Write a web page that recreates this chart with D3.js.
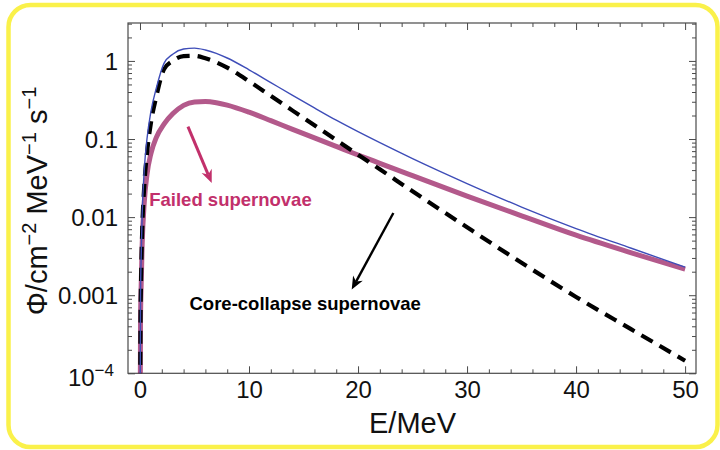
<!DOCTYPE html>
<html>
<head>
<meta charset="utf-8">
<script src="https://cdn.jsdelivr.net/npm/d3@7"></script>
<style>
  html, body { margin: 0; padding: 0; background: #ffffff; }
  svg { display: block; }
  text { font-family: "Liberation Sans", Arial, Helvetica, sans-serif; }
</style>
</head>
<body>
<svg id="chart" width="720" height="450"></svg>
<script>
// Neutrino energy grid (MeV)
const energy = [0.01, 0.05, 0.1, 0.2, 0.4, 0.64, 1, 1.5, 2.2, 3, 4, 5, 6, 7, 8, 10, 12, 14, 16, 18, 20, 22, 25, 30, 35, 40, 45, 50];

// Flux Φ (cm^-2 MeV^-1 s^-1) on the grid above
const coreCollapse = [2e-5, 0.0005, 0.0016, 0.0065, 0.026, 0.065, 0.16, 0.35, 0.78, 1.0, 1.15, 1.16, 1.08, 0.96, 0.82, 0.55, 0.356, 0.231, 0.15, 0.097, 0.063, 0.041, 0.0214, 0.0074, 0.0026, 0.00095, 0.00037, 0.000145];
const failed = [1e-5, 0.0005, 0.0012, 0.0045, 0.016, 0.035, 0.065, 0.105, 0.155, 0.21, 0.27, 0.298, 0.302, 0.292, 0.272, 0.221, 0.172, 0.133, 0.1035, 0.0804, 0.0624, 0.0489, 0.034, 0.0186, 0.0104, 0.00586, 0.00351, 0.00215];
const total = [3e-5, 0.001, 0.0028, 0.011, 0.042, 0.1, 0.225, 0.45, 0.93, 1.22, 1.42, 1.46, 1.38, 1.25, 1.09, 0.77, 0.528, 0.362, 0.25, 0.174, 0.124, 0.0897, 0.0561, 0.0269, 0.01346, 0.00714, 0.00402, 0.00229];

// Axis ticks
const xMajorTicks = [0, 10, 20, 30, 40, 50];
const yMajorTicks = [1e-4, 0.001, 0.01, 0.1, 1];
const yTickLabels = ["10", "0.001", "0.01", "0.1", "1"];

// Annotations in data units: [E, Φ]
const failedLabelAt = [0.85, 0.014];
const failedArrow = [[4.4, 0.144], [6.58, 0.0274]];
const coreLabelAt = [4.54, 0.00065];
const coreArrow = [[23.24, 0.0113], [19.42, 0.00118]];

const svg = d3.select("#chart");
const plotLeft = 128, plotRight = 696, plotTop = 23, plotBottom = 373.3;

// Rounded yellow frame around the figure
svg.append("rect")
  .attr("x", 8.5).attr("y", 5)
  .attr("width", 709).attr("height", 442)
  .attr("rx", 22).attr("ry", 22)
  .attr("fill", "#ffffff")
  .attr("stroke", "#faf14a")
  .attr("stroke-width", 4.5);

const x = d3.scaleLinear().domain([-1.1, 51]).range([plotLeft, plotRight]);
const y = d3.scaleLog().domain([1e-4, 3.06]).range([plotBottom, plotTop]);

// Clip curves to the plotting area
svg.append("clipPath").attr("id", "plotClip")
  .append("rect").attr("x", plotLeft).attr("y", plotTop)
  .attr("width", plotRight - plotLeft).attr("height", plotBottom - plotTop);

const frameColor = "#4a4a4a";

// Minor tick values
const xMinor = d3.range(0, 51, 2).filter(v => v % 10 !== 0);
const yMinor = [];
for (let e = -4; e <= 0; e++) {
  for (let m = 2; m <= 9; m++) {
    const v = m * Math.pow(10, e);
    if (v <= 3.06) yMinor.push(v);
  }
}

function styleAxis(g) {
  g.select(".domain").remove();
  g.selectAll(".tick line").attr("stroke", frameColor).attr("stroke-width", 1);
}

// Bottom axis (ticks point inward)
svg.append("g").attr("transform", `translate(0,${plotBottom})`)
  .call(d3.axisBottom(x).tickValues(xMajorTicks).tickSize(-7).tickPadding(10).tickFormat(d3.format("d")))
  .call(styleAxis)
  .call(g => g.selectAll(".tick text")
    .attr("font-size", 24).attr("fill", "#111")
    .attr("y", null).attr("dy", null)
    .attr("transform", "translate(0,25)"));
svg.append("g").attr("transform", `translate(0,${plotBottom})`)
  .call(d3.axisBottom(x).tickValues(xMinor).tickSize(-4).tickFormat(""))
  .call(styleAxis);

// Top axis
svg.append("g").attr("transform", `translate(0,${plotTop})`)
  .call(d3.axisTop(x).tickValues(xMajorTicks).tickSize(-7).tickFormat(""))
  .call(styleAxis);
svg.append("g").attr("transform", `translate(0,${plotTop})`)
  .call(d3.axisTop(x).tickValues(xMinor).tickSize(-4).tickFormat(""))
  .call(styleAxis);

// Left axis
svg.append("g").attr("transform", `translate(${plotLeft},0)`)
  .call(d3.axisLeft(y).tickValues(yMajorTicks).tickSize(-7).tickPadding(10)
    .tickFormat((d, i) => yTickLabels[i]))
  .call(styleAxis)
  .call(g => g.selectAll(".tick text")
    .attr("font-size", 24).attr("fill", "#111")
    .attr("dy", "0.36em"))
  .call(g => g.selectAll(".tick text").filter(d => d === 1e-4)
    .attr("dy", null).attr("transform", "translate(-4,12)")
    .append("tspan").attr("dy", -10).attr("font-size", 17).text("\u22124"));
svg.append("g").attr("transform", `translate(${plotLeft},0)`)
  .call(d3.axisLeft(y).tickValues(yMinor).tickSize(-4).tickFormat(""))
  .call(styleAxis);

// Right axis
svg.append("g").attr("transform", `translate(${plotRight},0)`)
  .call(d3.axisRight(y).tickValues(yMajorTicks).tickSize(-7).tickFormat(""))
  .call(styleAxis);
svg.append("g").attr("transform", `translate(${plotRight},0)`)
  .call(d3.axisRight(y).tickValues(yMinor).tickSize(-4).tickFormat(""))
  .call(styleAxis);

// Plot frame
svg.append("rect")
  .attr("x", plotLeft).attr("y", plotTop)
  .attr("width", plotRight - plotLeft).attr("height", plotBottom - plotTop)
  .attr("fill", "none").attr("stroke", frameColor).attr("stroke-width", 1.2);

// Curves
const lineOf = vals => d3.line()
  .x((d, i) => x(energy[i]))
  .y(d => y(d))
  .curve(d3.curveMonotoneX)(vals);

const curves = svg.append("g").attr("clip-path", "url(#plotClip)");
curves.append("path").attr("d", lineOf(failed))
  .attr("fill", "none").attr("stroke", "#b3598b").attr("stroke-width", 5)
  .attr("stroke-linejoin", "round");
curves.append("path").attr("d", lineOf(coreCollapse))
  .attr("fill", "none").attr("stroke", "#000").attr("stroke-width", 4.2)
  .attr("stroke-dasharray", "13,8");
curves.append("path").attr("d", lineOf(total))
  .attr("fill", "none").attr("stroke", "#3e4db8").attr("stroke-width", 1.4);

// Arrow with a notched, filled head
function arrow(pts, color, width, headLen, headHalf) {
  const [x0, y0] = [x(pts[0][0]), y(pts[0][1])];
  const [x1, y1] = [x(pts[1][0]), y(pts[1][1])];
  const len = Math.hypot(x1 - x0, y1 - y0);
  const ux = (x1 - x0) / len, uy = (y1 - y0) / len;
  const nx = -uy, ny = ux;
  const bx = x1 - ux * headLen, by = y1 - uy * headLen;
  const notchX = x1 - ux * headLen * 0.7, notchY = y1 - uy * headLen * 0.7;
  svg.append("line")
    .attr("x1", x0).attr("y1", y0).attr("x2", notchX).attr("y2", notchY)
    .attr("stroke", color).attr("stroke-width", width);
  svg.append("path")
    .attr("d", `M${x1},${y1}L${bx + nx * headHalf},${by + ny * headHalf}L${notchX},${notchY}L${bx - nx * headHalf},${by - ny * headHalf}Z`)
    .attr("fill", color);
}

arrow(failedArrow, "#c2306b", 3, 13, 5.5);
arrow(coreArrow, "#000000", 2.4, 13, 5.5);

// Annotation labels
svg.append("text")
  .attr("x", x(failedLabelAt[0])).attr("y", y(failedLabelAt[1]))
  .attr("font-size", 18.5).attr("font-weight", "bold").attr("fill", "#c2306b")
  .text("Failed supernovae");
svg.append("text")
  .attr("x", x(coreLabelAt[0])).attr("y", y(coreLabelAt[1]))
  .attr("font-size", 18.5).attr("font-weight", "bold").attr("fill", "#000")
  .text("Core-collapse supernovae");

// Axis titles
svg.append("text")
  .attr("x", 412.5).attr("y", 433)
  .attr("text-anchor", "middle").attr("font-size", 29).attr("fill", "#111")
  .text("E/MeV");

const yTitle = svg.append("text")
  .attr("transform", "translate(47,201) rotate(-90)")
  .attr("text-anchor", "middle").attr("font-size", 29).attr("fill", "#111");
yTitle.append("tspan").text("\u03A6/cm");
yTitle.append("tspan").attr("dy", -11).attr("font-size", 20).text("\u22122");
yTitle.append("tspan").attr("dy", 11).text(" MeV");
yTitle.append("tspan").attr("dy", -11).attr("font-size", 20).text("\u22121");
yTitle.append("tspan").attr("dy", 11).text(" s");
yTitle.append("tspan").attr("dy", -11).attr("font-size", 20).text("\u22121");
</script>
</body>
</html>
